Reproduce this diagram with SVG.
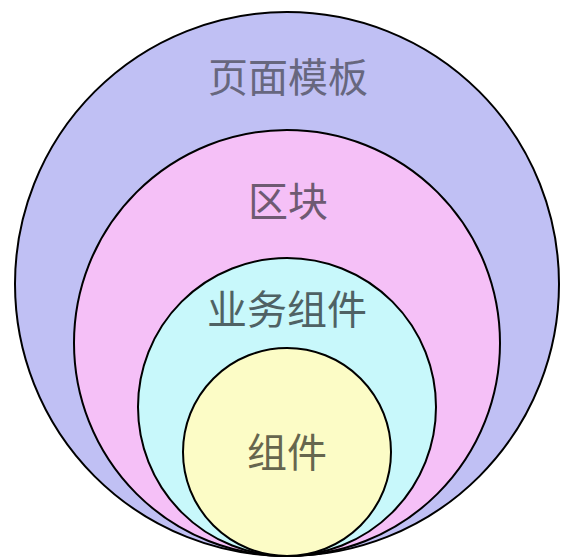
<svg xmlns="http://www.w3.org/2000/svg" width="576" height="559" viewBox="0 0 576 559">
<style>
.c{stroke:#000;stroke-width:2}
.t{font-family:"Noto Sans CJK SC","Noto Sans",sans-serif;font-size:40px;text-anchor:middle;dominant-baseline:central}
</style>
<rect width="576" height="559" fill="#fff"/>
<g id="page-template">
<circle class="c" cx="287" cy="284" r="272" fill="#c0c0f4"/>
<text class="t" x="288" y="75" fill="#67677e">页面模板</text>
</g>
<g id="block">
<circle class="c" cx="287" cy="343" r="213" fill="#f5c0f7"/>
<text class="t" x="288" y="199" fill="#6e5a72">区块</text>
</g>
<g id="business-component">
<circle class="c" cx="287" cy="407" r="149" fill="#c8f8fb"/>
<text class="t" x="287" y="307" fill="#4f6264">业务组件</text>
</g>
<g id="component">
<circle class="c" cx="287" cy="452" r="104" fill="#fcfcc6"/>
<text class="t" x="287" y="450" fill="#66664e">组件</text>
</g>
<g id="connectors"/>
</svg>
